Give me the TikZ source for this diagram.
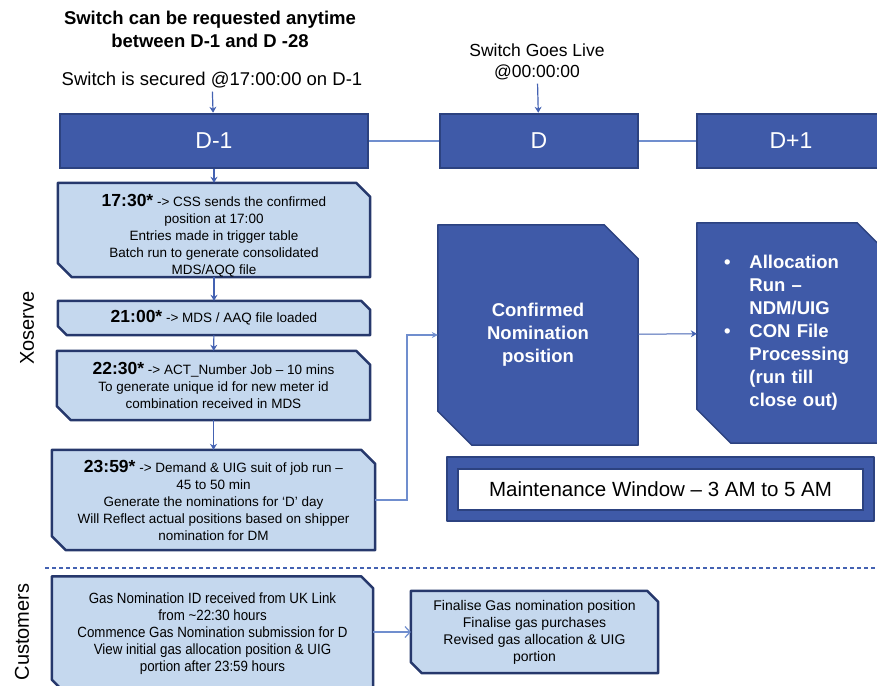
\documentclass[tikz,border=0pt]{standalone}
\usepackage{fontspec}
\setmainfont{Liberation Sans}
\newfontfamily\narrowfont[FakeStretch=0.9]{Liberation Sans}
\usepackage{tikz}
\usetikzlibrary{arrows.meta, backgrounds}
\definecolor{dayblue}{RGB}{63,90,168}
\definecolor{dayedge}{RGB}{44,66,128}
\definecolor{lightfill}{RGB}{197,216,238}
\definecolor{lightedge}{RGB}{38,56,108}
\definecolor{arrowblue}{RGB}{68,98,178}
\definecolor{linkblue}{RGB}{112,142,206}
\tikzset{
    day/.style={draw=dayedge, fill=dayblue, line width=2.5pt, text=white, minimum height=54pt, font=\fontsize{23}{26}\selectfont}, % day header boxes
    lbox/.style={align=center, inner sep=0pt, font=\fontsize{13.5}{17}\selectfont}, % light step boxes, outline drawn behind
    dbox/.style={text=white, align=center, inner sep=0pt, font=\fontsize{18.5}{23}\selectfont\bfseries},
    snip/.style={fill=lightfill, draw=lightedge, line width=2.5pt, line join=round},
    dsnip/.style={fill=dayblue, draw=dayedge, line width=1.5pt, line join=round},
    e/.style={draw=arrowblue, line width=1.2pt, -{Stealth[length=6pt, width=7pt]}},
    link/.style={draw=linkblue, line width=1.5pt},
    lane/.style={rotate=90, font=\fontsize{20}{22}\selectfont}
}
\newcommand{\hr}[1]{{\fontsize{17.5}{17}\selectfont\bfseries #1}}

\begin{document}
\begin{tikzpicture}[x=1pt, y=-1pt]
        \useasboundingbox (0,0) rectangle (877,685);
        \clip (0,0) rectangle (877,685);

        \node[align=center, font=\fontsize{18.5}{23}\selectfont\bfseries] (title) at (210,29)
        {Switch can be requested anytime\\between D-1 and D -28};
        \node[font=\fontsize{18.5}{20}\selectfont] (secured) at (212,80)
        {Switch is secured @17:00:00 on D-1};
        \node[align=center, font=\fontsize{17.5}{21}\selectfont] (live) at (537,62)
        {Switch Goes Live\\@00:00:00};

        \node[day, minimum width=308pt] (dm1) at (214,141) {D-1};
        \node[day, minimum width=198pt] (dday) at (539,141) {D};
        \node[day, minimum width=188pt] (dp1) at (791,141) {D+1};

        \node[lbox, minimum width=312pt, minimum height=94pt] (t1730) at (214,230)
        {\rule{0pt}{23pt}\hr{17:30*} -> CSS sends the confirmed\\position at 17:00\\Entries made in trigger table\\Batch run to generate consolidated\\MDS/AQQ file};
        \node[lbox, minimum width=312pt, minimum height=34pt] (t2100) at (214,318)
        {\hr{21:00*} -> MDS / AAQ file loaded};
        \node[lbox, minimum width=313pt, minimum height=69pt] (t2230) at (213.5,385.5)
        {\hr{22:30*} -> ACT\_Number Job – 10 mins\\To generate unique id for new meter id\\combination received in MDS};
        \node[lbox, minimum width=323pt, minimum height=100pt] (t2359) at (213.5,500)
        {\hr{23:59*} -> Demand \& UIG suit of job run –\\45 to 50 min\\Generate the nominations for ‘D’ day\\Will Reflect actual positions based on shipper\\nomination for DM};

        \node[dbox, minimum width=200pt, minimum height=220pt] (conf) at (538,335)
        {Confirmed\\Nomination\\position};
        \node[dbox, minimum width=194pt, minimum height=220pt, text width=140pt, inner xsep=27pt, align=left] (alloc) at (794,333)
        {\begin{tabular}{@{}l@{\hspace{19pt}}l@{}}
          \textbullet & Allocation\\ & Run –\\ & NDM/UIG\\
          \textbullet & CON File\\ & Processing\\ & (run till\\ & close out)
        \end{tabular}};

        \node[draw=dayedge, fill=white, line width=1.2pt, minimum width=405pt, minimum height=41pt, font=\fontsize{20.5}{22}\selectfont] (maint) at (660.5,489.5)
        {Maintenance Window – 3 AM to 5 AM};

        \node[lane] (xoserve) at (27,328) {Xoserve};
        \node[lane] (cust) at (22,632) {Customers};

        \node[lbox, minimum width=321pt, minimum height=115pt, font=\narrowfont\fontsize{14.8}{17}\selectfont] (c1) at (212.5,634)
        {Gas Nomination ID received from UK Link\\from \textasciitilde22:30 hours\\Commence Gas Nomination submission for D\\View initial gas allocation position \& UIG\\portion after 23:59 hours};
        \node[lbox, minimum width=247pt, minimum height=82pt, font=\fontsize{14}{17}\selectfont] (c2) at (534.5,632)
        {Finalise Gas nomination position\\Finalise gas purchases\\Revised gas allocation \& UIG\\portion};

        \coordinate (dl) at (45,568);
        \coordinate (dr) at (877,568);

        \begin{scope}[on background layer]
          \foreach \n/\c in {t1730/14, t2100/9, t2230/14, t2359/14, c1/12, c2/11}
            \draw[snip] ([xshift=-\c pt]\n.north east) -- (\n.north west) -- ([yshift=\c pt]\n.south west)
              -- ([xshift=\c pt]\n.south west) -- (\n.south east) -- ([yshift=-\c pt]\n.north east) -- cycle;
          \foreach \n in {conf, alloc}
            \draw[dsnip] ([xshift=-34pt]\n.north east) -- (\n.north west) -- ([yshift=34pt]\n.south west)
              -- ([xshift=34pt]\n.south west) -- (\n.south east) -- ([yshift=-34pt]\n.north east) -- cycle;
          \draw[dsnip, line width=2pt] ([shift={(-10,-11)}]maint.north west) rectangle ([shift={(10,10)}]maint.south east);
        \end{scope}

        \draw[e] (secured) -- (dm1);
        \draw[e] (live) -- (dday);
        \draw[link, line width=1.2pt] (dm1) -- (dday);
        \draw[link, line width=1.2pt] (dday) -- (dp1);
        \draw[e] (dm1) -- (t1730);
        \draw[e] (t1730) -- (t2100);
        \draw[e] (t2100) -- (t2230);
        \draw[e] (t2230) -- (t2359);
        \draw[link, -{Stealth[length=6pt, width=6pt]}] (t2359.east) -- ++(32,0) |- (conf.west);
        \draw[e, line width=1pt] (conf) -- (alloc);
        \draw[dashed, draw=arrowblue, line width=1.2pt, dash pattern=on 4pt off 3pt] (dl) -- (dr);
        \draw[link, line width=1.2pt, -{Straight Barb[length=5pt, width=11pt]}] (c1.east |- c2.west) -- (c2.west);
      \end{tikzpicture}
\end{document}
